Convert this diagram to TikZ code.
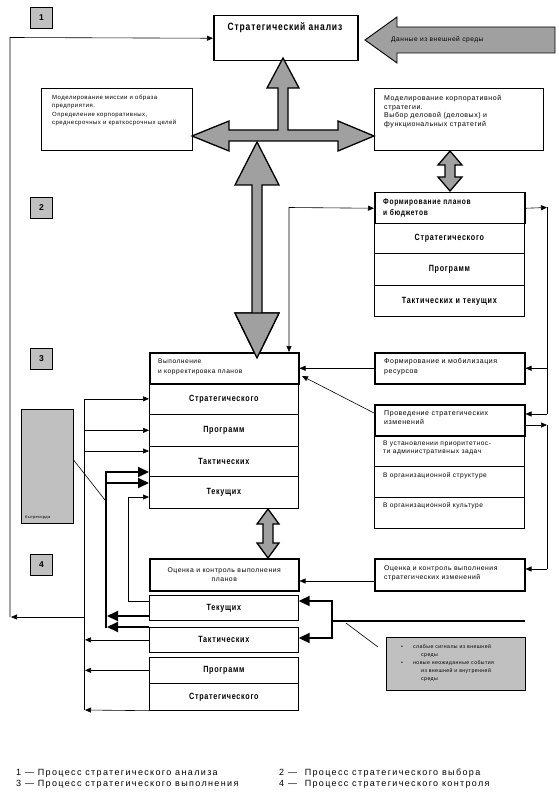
\documentclass[tikz,border=0pt]{standalone}
\usepackage{fontspec}
\setmainfont{Liberation Sans}
\newfontfamily\nbf[FakeStretch=0.8,LetterSpace=8]{Liberation Sans}
\newfontfamily\sfnt[LetterSpace=8]{Liberation Sans}
\newfontfamily\lgfont[LetterSpace=15]{Liberation Sans}
\usetikzlibrary{arrows.meta}
\newcommand\myfs[2]{\fontsize{#1}{#2}\selectfont}
\definecolor{arrowgrey}{HTML}{A0A0A0}
\definecolor{boxgrey}{HTML}{C0C0C0}
\tikzset{
  basebox/.style={draw,inner sep=0pt,anchor=north west},
  rowbox/.style={basebox,line width=0.7pt,font=\nbf\bfseries\myfs{9}{10}},
  headbox/.style={basebox,line width=1.5pt},
  plainbox/.style={basebox,line width=1.1pt},
  numbox/.style={basebox,line width=0.9pt,fill=boxgrey,minimum width=22pt,minimum height=21pt,font=\bfseries\myfs{8.5}{9}},
  txt/.style={inner sep=0pt,anchor=north west,align=left},
  bigarrow/.style={draw,line width=1.3pt,fill=arrowgrey,line join=miter},
  arr/.style={line width=0.6pt,-{Triangle[length=6pt,width=5pt]}},
  darr/.style={line width=0.6pt,{Triangle[length=6pt,width=5pt]}-{Triangle[length=6pt,width=5pt]}},
  plain/.style={line width=0.6pt},
  tarr/.style={line width=2pt,-{Triangle[length=11pt,width=10pt]}},
  tline/.style={line width=2pt},
}
\begin{document}
\begin{tikzpicture}[x=1pt,y=-1pt]
\useasboundingbox (0,0) rectangle (558,802);
\fill[white] (0,0) rectangle (558,802);

% number boxes
\node[numbox] (n1) at (30,7) {1};
\node[numbox] (n2) at (30,197) {2};
\node[numbox] (n3) at (30,348) {3};
\node[numbox] (n4) at (30,554) {4};

% strategic analysis
\node[headbox,minimum width=144pt,minimum height=45pt] (sa) at (213,15) {};
\node[inner sep=0pt,font=\nbf\bfseries\myfs{10.6}{12}] (sat) at (285,28) {Стратегический анализ};

% data arrow
\draw[bigarrow,line width=0.9pt] (365,40) -- (397,17) -- (397,27) -- (555,27) -- (555,53) -- (397,53) -- (397,63) -- cycle;
\node[inner sep=0pt,anchor=west,font=\sfnt\myfs{6.6}{8}] (dat) at (391,40) {Данные из внешней среды};

% top boxes
\node[plainbox,minimum width=151pt,minimum height=62pt] (lb) at (41,88) {};
\node[txt,font=\sfnt\myfs{6}{8.5}] (lbt) at (52,94.5) {Моделирование миссии и образа\\предприятия.\\Определение корпоративных,\\среднесрочных и краткосрочных целей};
\node[plainbox,minimum width=169pt,minimum height=62pt] (rb) at (374,88) {};
\node[txt,font=\sfnt\myfs{7}{8.7}] (rbt) at (384,95) {Моделирование корпоративной\\стратегии.\\Выбор деловой (деловых) и\\функциональных стратегий};

% grey cross arrow
\draw[bigarrow] (283,58) -- (299,88) -- (288,88) -- (288,130) -- (338,130) -- (338,121) -- (374,136) -- (338,151) -- (338,141) -- (229,141) -- (229,151) -- (192,136) -- (229,121) -- (229,130) -- (278,130) -- (278,88) -- (267,88) -- cycle;
\draw[bigarrow] (257,142) -- (279,185) -- (262,185) -- (262,313) -- (279,313) -- (257,358) -- (235,313) -- (252,313) -- (252,185) -- (235,185) -- cycle;
\draw[bigarrow] (450,151) -- (462,165) -- (455,165) -- (455,177) -- (462,177) -- (450,191) -- (438,177) -- (445,177) -- (445,165) -- (438,165) -- cycle;

% planning block
\node[rowbox,minimum width=150pt,minimum height=30pt] (f1) at (374,223) {Стратегического};
\node[rowbox,minimum width=150pt,minimum height=32pt] (f2) at (374,253) {Программ};
\node[rowbox,minimum width=150pt,minimum height=31pt] (f3) at (374,285) {Тактических и текущих};
\node[headbox,minimum width=150pt,minimum height=31pt] (fh) at (374,192) {};
\begin{scope}
\clip (374,192) rectangle (524,220);
\node[txt,font=\nbf\bfseries\myfs{8.3}{11}] (fht) at (383,199) {Формирование планов\\и бюджетов};
\end{scope}

% execution block
\node[rowbox,minimum width=149pt,minimum height=31pt] (v1) at (149,383) {Стратегического};
\node[rowbox,minimum width=149pt,minimum height=32pt] (v2) at (149,414) {Программ};
\node[rowbox,minimum width=149pt,minimum height=30pt] (v3) at (149,446) {Тактических};
\node[rowbox,minimum width=149pt,minimum height=32pt] (v4) at (149,476) {Текущих};
\node[headbox,minimum width=149pt,minimum height=31pt,fill=white] (vh) at (149,352) {};
\node[txt,font=\sfnt\myfs{6.6}{9.8}] (vht) at (158,358.5) {Выполнение\\и корректировка планов};
\draw[bigarrow] (257,313) -- (279,313) -- (257,358) -- (235,313) -- cycle;

% resources
\node[headbox,minimum width=150pt,minimum height=31pt] (mob) at (374,352) {};
\node[txt,font=\sfnt\myfs{7}{9.3}] (mobt) at (384,358.5) {Формирование и мобилизация\\ресурсов};

% strategic changes
\node[basebox,line width=0.7pt,minimum width=150pt,minimum height=31pt] (p1) at (374,435) {};
\node[basebox,line width=0.7pt,minimum width=150pt,minimum height=31pt] (p2) at (374,466) {};
\node[basebox,line width=0.7pt,minimum width=150pt,minimum height=31pt] (p3) at (374,497) {};
\node[headbox,minimum width=150pt,minimum height=31pt] (ph) at (374,404) {};
\node[txt,font=\sfnt\myfs{7}{9.3}] (pht) at (384,410.5) {Проведение стратегических\\изменений};
\node[txt,font=\sfnt\myfs{6.6}{8.3}] (p1t) at (383,440.5) {В установлении приоритетнос-\\ти административных задач};
\node[txt,font=\sfnt\myfs{6.6}{8.3}] (p2t) at (383,472.5) {В организационной структуре};
\node[txt,font=\sfnt\myfs{6.6}{8.3}] (p3t) at (383,502.5) {В организационной культуре};

% control
\draw[bigarrow] (268,509) -- (279,524) -- (273,524) -- (273,543) -- (279,543) -- (268,558) -- (257,543) -- (263,543) -- (263,524) -- (257,524) -- cycle;
\node[headbox,minimum width=149pt,minimum height=32pt,font=\sfnt\myfs{6.8}{9.3},align=center] (oc1) at (149,558) {Оценка и контроль выполнения\\планов};
\node[headbox,minimum width=150pt,minimum height=32pt] (oc2) at (374,558) {};
\node[txt,font=\sfnt\myfs{6.8}{9.5}] (oc2t) at (384,565.5) {Оценка и контроль выполнения\\стратегических изменений};

% bottom stack
\node[rowbox,minimum width=149pt,minimum height=25pt] (b1) at (149,595) {Текущих};
\node[rowbox,minimum width=149pt,minimum height=25pt] (b2) at (149,627) {Тактических};
\node[rowbox,minimum width=149pt,minimum height=26pt] (b3) at (149,657) {Программ};
\node[rowbox,minimum width=149pt,minimum height=27pt] (b4) at (149,683) {Стратегического};

% grey notes
\node[basebox,line width=0.6pt,fill=boxgrey,minimum width=52pt,minimum height=114pt] (g1) at (21,409) {};
\node[inner sep=0pt,anchor=west,font=\sfnt\myfs{4}{5}] (g1t) at (25,517) {бытрекорда};
\node[basebox,line width=0.6pt,fill=boxgrey,minimum width=139pt,minimum height=53pt] (g2) at (386,637) {};
\node[txt,font=\sfnt\myfs{5.2}{8.2}] (g2t) at (401,644) {\makebox[12pt][l]{\textbullet}слабые сигналы из внешней\\\hspace*{20pt}среды\\\makebox[12pt][l]{\textbullet}новые неожиданные события\\\hspace*{20pt}из внешней и внутренней\\\hspace*{20pt}среды};

% right collector
\draw[arr] (fh.east) -- (547,207.5);
\draw[plain] (547,207.5) -- (547,414);
\draw[arr] (mob.east -| 547,0) -- (mob.east);
\draw[arr] (547,414) -- (ph.east |- 0,414);
\draw[arr] (ph.east |- 0,425) -- (547,425);
\draw[plain] (547,425) -- (547,569);
\draw[arr] (547,569) -- (oc2.east |- 0,569);

% left of planning
\draw[darr] (fh.west) -- (289,207.5) -- (vh.north -| 289,0);
\draw[arr] (mob.west) -- (vh.east |- mob.west);
\draw[arr] (ph.west |- 0,413) -- (302,376);
\draw[arr] (oc2.west |- 0,581) -- (oc1.east |- 0,581);

% left thin collector
\draw[plain] (84,399) -- (84,710);
\draw[arr] (v1.west -| 84,0) -- (v1.west);
\draw[arr] (v2.west -| 84,0) -- (v2.west);
\draw[arr] (84,451) -- (v3.west |- 0,451);
\draw[arr] (b2.west) -- (b2.west -| 85,0);
\draw[arr] (b3.west) -- (b3.west -| 85,0);
\draw[arr] (b4.south west) -- (85,710);
\draw[arr] (84,617) -- (11,617);
\draw[arr] (10,617) -- (10,37.5) -- (sa.west);
\draw[arr] (b1.west |- 0,601) -- (128,601) -- (128,497) -- (v4.west |- 0,497);

% left thick collector
\draw[tline] (106,471) -- (106,628);
\draw[tarr] (105,472) -- (v3.west |- 0,472);
\draw[tarr] (105,483) -- (v4.west |- 0,483);
\draw[tarr] (b1.west |- 0,616) -- (107,616);
\draw[tarr] (b2.north west) -- (107,627);
\draw[plain] (g1.east |- 0,460) -- (105,500);

% right thick collector
\draw[tline] (525,621) -- (332,621);
\draw[tarr,line join=miter] (332,622) |- (b1.east |- 0,601);
\draw[tarr,line join=miter] (332,620) |- (b2.east |- 0,638);
\draw[plain] (346,623) -- (378,647);

% legend
\node[inner sep=0pt,anchor=west,font=\lgfont\myfs{9}{10}] (lg1) at (16,773) {1 — Процесс стратегического анализа};
\node[inner sep=0pt,anchor=west,font=\lgfont\myfs{9}{10}] (lg3) at (16,784) {3 — Процесс стратегического выполнения};
\node[inner sep=0pt,anchor=west,font=\lgfont\myfs{9}{10}] (lg2) at (279,773) {2 —\ \ Процесс стратегического выбора};
\node[inner sep=0pt,anchor=west,font=\lgfont\myfs{9}{10}] (lg4) at (279,784) {4 —\ \ Процесс стратегического контроля};
\end{tikzpicture}
\end{document}
